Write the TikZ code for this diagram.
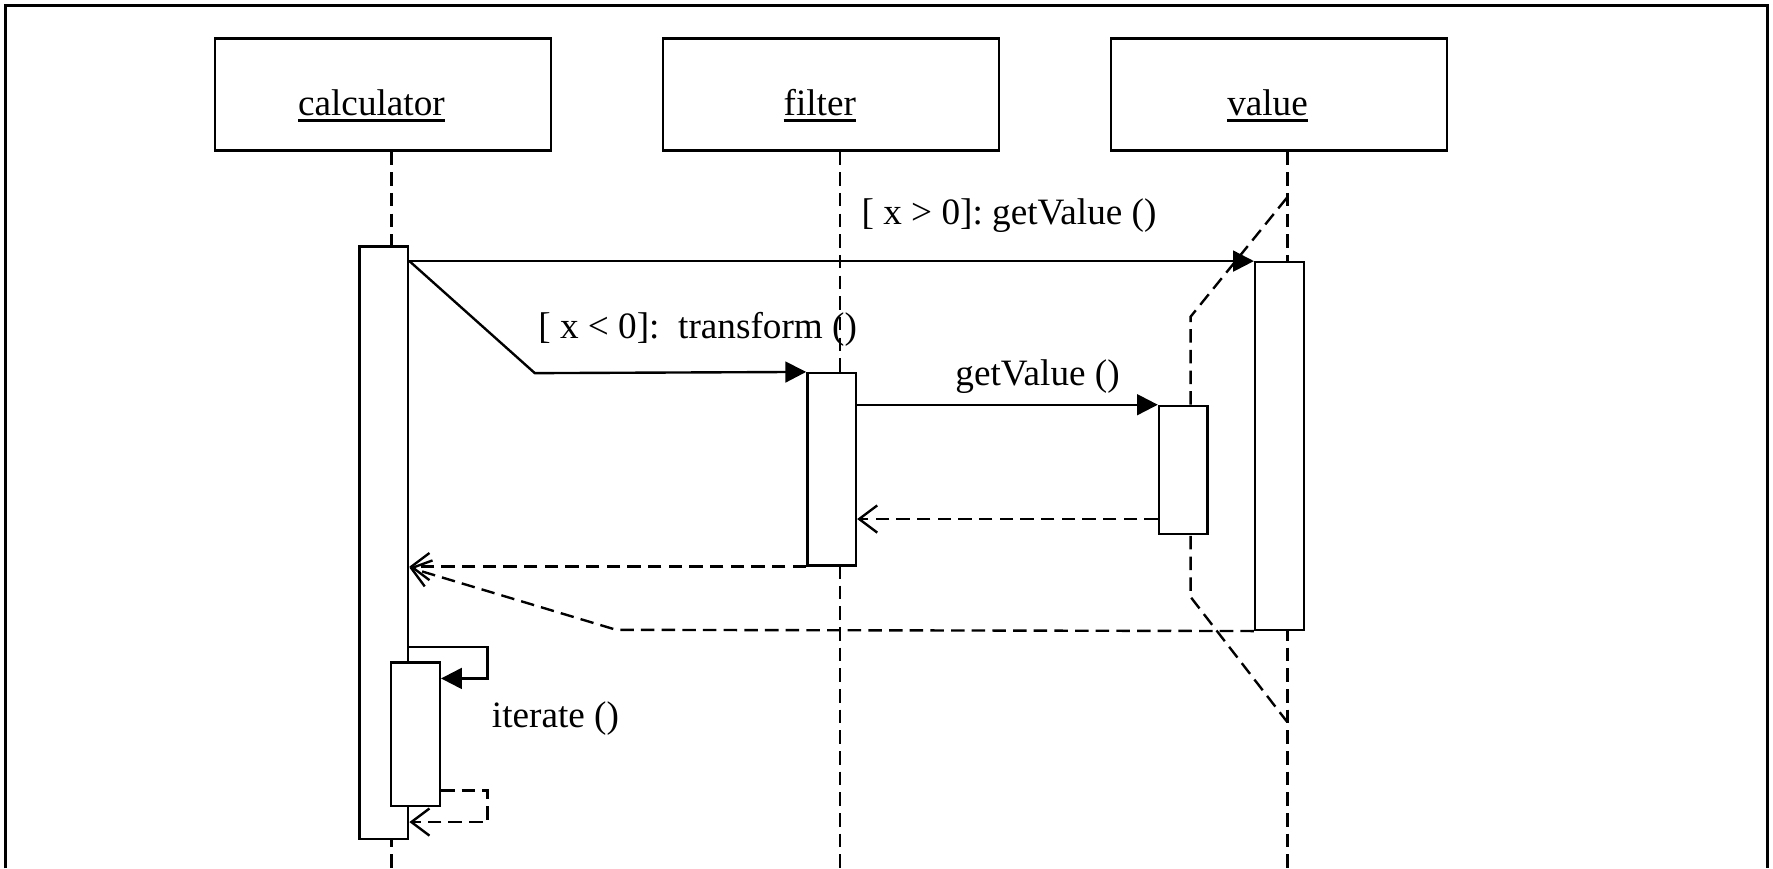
\documentclass[tikz,border=0pt]{standalone}
\usepackage{fontspec}
\setmainfont{Liberation Serif}
\usepackage{tikz}
\usetikzlibrary{arrows.meta}
\newcommand{\objname}[1]{\raisebox{-0.46cm}[0pt][0pt]{\setbox0\hbox{#1}\rlap{\rule[-4pt]{\wd0}{1.7pt}}\box0}\kern0.5cm}

\tikzset{
  objbox/.style={draw, fill=white, minimum width=7.425cm, minimum height=2.475cm, inner sep=0pt},
  actbox/.style={draw, fill=white, minimum width=1.075cm, inner sep=0pt},
  lifeline/.style={dash pattern=on 8.5pt off 4.5pt},
  call/.style={-{Triangle[length=0.46cm, width=0.46cm]}},
  reply/.style={dash pattern=on 8.5pt off 4.5pt, -{Straight Barb[length=0.4cm, width=0.6cm]}},
  msglabel/.style={inner sep=0pt}
}

\begin{document}
\begin{tikzpicture}[x=0.025cm, y=-0.025cm, line width=1.5pt,
    font=\fontsize{23.4}{28}\selectfont\frenchspacing]
    \useasboundingbox (0,0) rectangle (1568,768);
    \draw (5,768) -- (5,5) -- (1563,5) -- (1563,768);

    % objects
    \node[objbox] (calc) at (338.5,83.5) {\objname{calculator}};
    \node[objbox] (filt) at (735,83.5) {\objname{filter}};
    \node[objbox] (val) at (1131,83.5) {\objname{value}};

    % lifelines
    \foreach \o in {calc, filt, val}
      \draw[lifeline] ([xshift=0.19cm]\o.south) -- ++(0,635);
    \draw[lifeline] (1138,175) -- (1053,280) -- (1053,528) -- (1138,638);

    % activations
    \node[actbox, minimum height=13.1cm] (calcA) at (339.5,480) {};
    \node[actbox, minimum height=3.175cm] (itA) at (367.5,649.5) {};
    \node[actbox, minimum height=4.25cm] (filA) at (735.5,415) {};
    \node[actbox, minimum height=2.825cm] (inA) at (1046.5,415.5) {};
    \node[actbox, minimum height=8.125cm] (valA) at (1131.5,394.5) {};

    % messages
    \draw[call] (calcA.east |- valA.north) -- (valA.north west)
      node[msglabel, pos=0.71, anchor=base, yshift=0.8cm]{[ x > 0]: getValue ()};
    \draw[call] (calcA.east |- valA.north) -- (473,330) -- (filA.north west)
      node[msglabel, pos=0.6, anchor=base, yshift=0.75cm]{[ x < 0]:\ \ transform ()};
    \draw[call] (filA.east |- inA.north) -- (inA.north west)
      node[msglabel, pos=0.6, anchor=base, yshift=0.42cm]{getValue ()};
    \draw[reply] (inA.west |- 0,459) -- (filA.east |- 0,459);
    \draw[reply] (filA.south west) -- (calcA.east |- filA.south west);
    \draw[reply] (valA.south west) -- (545,557) -- (calcA.east |- 0,502);

    % self call
    \draw[call] (calcA.east |- 0,572) -- (431,572) -- (431,600) -- (itA.east |- 0,600);
    \node[msglabel, anchor=base west] (itlbl) at (434,643) {iterate ()};
    \draw[reply] (itA.east |- 0,699) -- (431,699) -- (431,727) -- (calcA.east |- 0,727);
\end{tikzpicture}
\end{document}
